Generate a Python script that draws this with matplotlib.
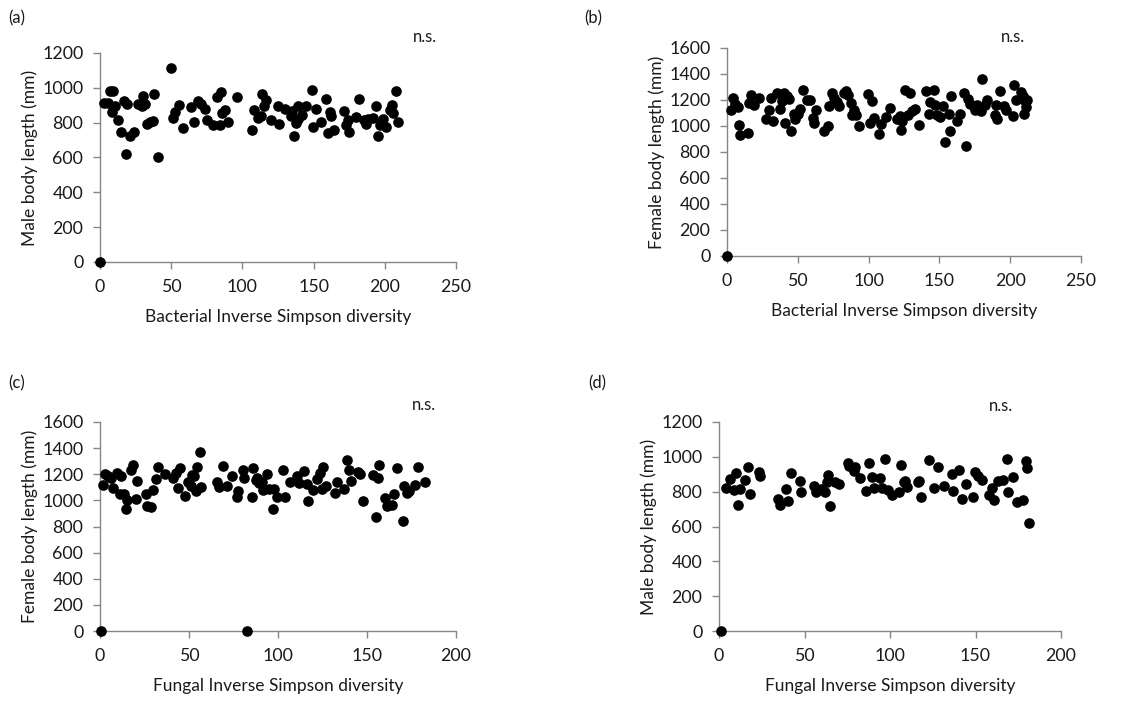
import matplotlib
matplotlib.use('Agg')
import matplotlib.pyplot as plt

plt.rcParams['font.family'] = ['Lato', 'DejaVu Sans']

# (a) bacterial diversity vs male length
a_x = [0, 3, 5.4, 7, 9.4, 8.7, 10.5, 12.4, 14.5, 16.9, 19.2, 18.3, 21, 23.9, 27, 29.3, 30, 31.6,
       32.8, 35, 37, 38, 41, 49.9, 51, 52.7, 55.7, 58.5, 63.7, 66, 68.6, 70.7, 73.5, 75, 79.6,
       82.4, 84.3, 84.7, 86, 87.8, 90, 96, 107, 108, 110.7, 113, 114, 115, 116.6, 120, 125,
       125.7, 130, 134, 135, 136, 137.6, 138.8, 139, 141.6, 144.7, 149, 149.8, 151.7, 155, 159,
       160, 161.5, 162, 164, 171, 172.5, 174.4, 175, 180, 182, 185.6, 186.6, 188, 192, 194, 195,
       196.6, 198.5, 201, 204, 204.8, 205.5, 208, 209]
a_y = [0, 913, 913, 980, 984, 859, 898, 817, 745, 922, 907, 622, 725, 748, 907, 898, 951, 907,
       794, 802, 808, 965, 603, 1114, 827, 859, 903, 769, 888, 802, 926, 907, 878, 817, 789,
       945, 789, 976, 856, 871, 802, 947, 756, 871, 827, 840, 965, 898, 932, 813, 898,
       794, 878, 840, 869, 725, 798, 898, 821, 846, 894, 986, 773, 878, 804, 936,
       741, 859, 840, 756, 869, 789, 817, 746, 831, 936, 817, 792, 821, 827, 898, 721,
       785, 821, 775, 875, 903, 856, 980, 802]

# (b) bacterial diversity vs female length
b_x = [0, 2.8, 4, 5.9, 7.8, 8.7, 9.4, 14.6, 15.3, 17, 19.3, 22.8, 27.8, 30, 31, 32.5, 35.3, 37.7,
       38.8, 40.5, 41, 42.4, 43.5, 45, 47, 48, 50, 51.8, 53.7, 56.5, 58.4, 60.5, 61.7, 62.9, 68.3,
       71, 71.8, 74, 75.8, 77.7, 78.9, 82.9, 84.3, 85.5, 87.6, 88.3, 90, 91.3, 93, 99.3, 101,
       102.4, 104, 107, 108.8, 112.5, 114.9, 120, 122, 122.9, 123.6, 126, 127.8, 129, 130.6, 133,
       135.8, 140.8, 142.4, 143.6, 146, 147, 148.3, 150.7, 152.5, 153.7, 156.5, 157.7, 158.4,
       162.4, 164.8, 167.6, 168.8, 170, 171.4, 174.2, 175.4, 176.6, 179.4, 180, 182.4, 183.6,
       189.5, 190, 191, 193, 195.9, 197.3, 202, 202.4, 204.3, 207.6, 208.8, 209.5, 210.7, 211.4,
       211.9]
b_y = [0, 1126, 1215, 1172, 1146, 1005, 933, 949, 1177, 1236, 1164, 1215, 1056, 1120, 1215, 1038,
       1254, 1133, 1190, 1254, 1023, 1228, 1205, 959, 1095, 1056, 1095, 1133, 1274, 1202, 1197,
       1064, 1023, 1126, 959, 997, 1151, 1254, 1215, 1185, 1151, 1254, 1269, 1241, 1177, 1082,
       1120, 1087, 997, 1249, 1023, 1190, 1064, 936, 1013, 1069, 1138, 1056, 1074, 967, 1038,
       1279, 1082, 1254, 1115, 1133, 1010, 1267, 1095, 1185, 1274, 1164, 1087, 1069, 1151, 877,
       1095, 959, 1228, 1038, 1095, 1254, 846, 1210, 1172, 1151, 1120, 1164, 1113, 1364, 1164,
       1202, 1082, 1164, 1051, 1269, 1151, 1120, 1074, 1313, 1197, 1262, 1228, 1095, 1190, 1146,
       1202]

# (c) fungal diversity vs female length
c_x = [0.6, 1.5, 2.8, 4.7, 6, 7.5, 9.7, 11.6, 11.2, 13.5, 14.6, 15.4, 17.4, 18.7, 20.2, 20.6,
       25.7, 26.6, 28.5, 29.6, 31.5, 32.8, 36.5, 41.2, 42.7, 44, 45, 47.8, 49.6, 51, 51.9, 52.8,
       53.9, 54.7, 56.2, 56.7, 65.5, 67, 68.9, 71.2, 74, 76.8, 77.7, 80.1, 81, 82.8, 85.2, 85.8,
       87.6, 88.4, 89.5, 90.8, 91.8, 93.6, 95.1, 97, 97.8, 99.6, 103, 104, 106.7, 110.9, 112,
       114.6, 116.1, 117, 119.9, 121.7, 123.6, 125.5, 124.9, 127, 132, 133.3, 137, 139, 140,
       140.8, 145.1, 146, 148, 153.2, 155, 156, 157, 160.1, 161, 163.9, 165.2, 166.7, 170, 171,
       172.3, 173.6, 177, 178.8, 182.6]
c_y = [0, 1119, 1201, 1188, 1170, 1093, 1213, 1188, 1050, 1050, 934, 1004, 1229, 1272, 1009, 1149,
       1047, 960, 952, 1080, 1162, 1252, 1203, 1170, 1208, 1098, 1247, 1034, 1137, 1111, 1196,
       1188, 1068, 1254, 1367, 1106, 1137, 1101, 1265, 1111, 1183, 1029, 1068, 1229, 1175, 0,
       1024, 1247, 1157, 1175, 1132, 1137, 1080, 1203, 1085, 934, 1085, 1024, 1234, 1029, 1139,
       1188, 1132, 1226, 1126, 998, 1080, 1162, 1208, 1252, 1085, 1111, 1055, 1144, 1085, 1311,
       1234, 1149, 1221, 1203, 998, 1196, 876, 1175, 1267, 1016, 957, 965, 1047, 1247, 845, 1111,
       1060, 1068, 1119, 1254, 1144]

# (d) fungal diversity vs male length
d_x = [1.2, 4.1, 6.2, 9, 10, 10.9, 12.5, 15, 16.9, 18.3, 23.2, 24.1, 34.3, 35.8, 39.3, 40.1, 42,
       47.1, 47.9, 55.7, 56.9, 59.8, 62.1, 63.1, 64, 65, 68, 70.3, 75.2, 75.8, 79.6, 79, 82.2,
       86.1, 88, 89.4, 90.4, 94.3, 95.2, 97.2, 99.1, 101, 105, 106.3, 108.3, 108.9, 110.2, 116.3,
       117, 118, 123, 125.8, 128.3, 131.3, 136.1, 137.1, 140.4, 142, 144.5, 148.8, 149.8, 151.7,
       153.7, 158, 159.5, 161, 163, 165.9, 168.3, 169.2, 172.2, 174.1, 177.6, 179.4, 180.3, 181.5]
d_y = [0, 820, 872, 811, 907, 721, 815, 868, 939, 786, 911, 891, 757, 725, 815, 748, 907,
       863, 796, 830, 796, 815, 797, 853, 897, 719, 855, 845, 964, 945, 941, 916, 878,
       805, 964, 884, 820, 878, 820, 987, 811, 778, 797, 955, 853, 863, 824, 853,
       863, 767, 980, 820, 941, 830, 903, 805, 926, 759, 843, 772, 911, 888,
       868, 782, 820, 750, 863, 865, 987, 797, 884, 740, 753, 978, 936, 619]

W, H = 1143, 702
fig = plt.figure(figsize=(W / 100, H / 100), dpi=100)

panels = [
    # tag, pixel box (left, top, right, bottom), x, y, xmax, ymax, xlabel, ylabel, tag pos, ns pos
    ('(a)', (100, 53, 456, 262), a_x, a_y, 250, 1200, 'Bacterial Inverse Simpson diversity',
     'Male body length (mm)', (17, 18), (425, 37)),
    ('(b)', (727, 48, 1081, 256), b_x, b_y, 250, 1600, 'Bacterial Inverse Simpson diversity',
     'Female body length (mm)', (593, 18), (1013, 37)),
    ('(c)', (100, 422, 456, 631), c_x, c_y, 200, 1600, 'Fungal Inverse Simpson diversity',
     'Female body length (mm)', (17, 383), (424, 405)),
    ('(d)', (719, 422, 1061, 631), d_x, d_y, 200, 1200, 'Fungal Inverse Simpson diversity',
     'Male body length (mm)', (597, 383), (1001, 406)),
]

grey = '#868686'
txt = '#1a1a1a'
for tag, box, x, y, xmax, ymax, xl, yl, tpos, npos in panels:
    l, t, r, b = box
    ax = fig.add_axes([l / W, 1 - b / H, (r - l) / W, (b - t) / H])
    ax.scatter(x, y, s=44, color='black', zorder=3, clip_on=False)
    ax.set_xlim(0, xmax)
    ax.set_ylim(0, ymax)
    ax.set_xticks(range(0, xmax + 1, 50))
    ax.set_yticks(range(0, ymax + 1, 200))
    for s in ['top', 'right']:
        ax.spines[s].set_visible(False)
    for s in ['left', 'bottom']:
        ax.spines[s].set_color(grey)
        ax.spines[s].set_linewidth(1.0)
    ax.tick_params(direction='out', length=5, width=1.0, color=grey, labelsize=12.8,
                   labelcolor=txt)
    ax.tick_params(axis='x', pad=7)
    ax.tick_params(axis='y', pad=7)
    ax.set_xlabel(xl, fontsize=12.5, color=txt, labelpad=10)
    ax.set_ylabel(yl, fontsize=12.5, color=txt, labelpad=3)
    fig.text(tpos[0] / W, 1 - tpos[1] / H, tag, fontsize=12, color=txt, ha='center', va='center')
    fig.text(npos[0] / W, 1 - npos[1] / H, 'n.s.', fontsize=12, color=txt, ha='center', va='center')

fig.savefig('out.png', dpi=100)
